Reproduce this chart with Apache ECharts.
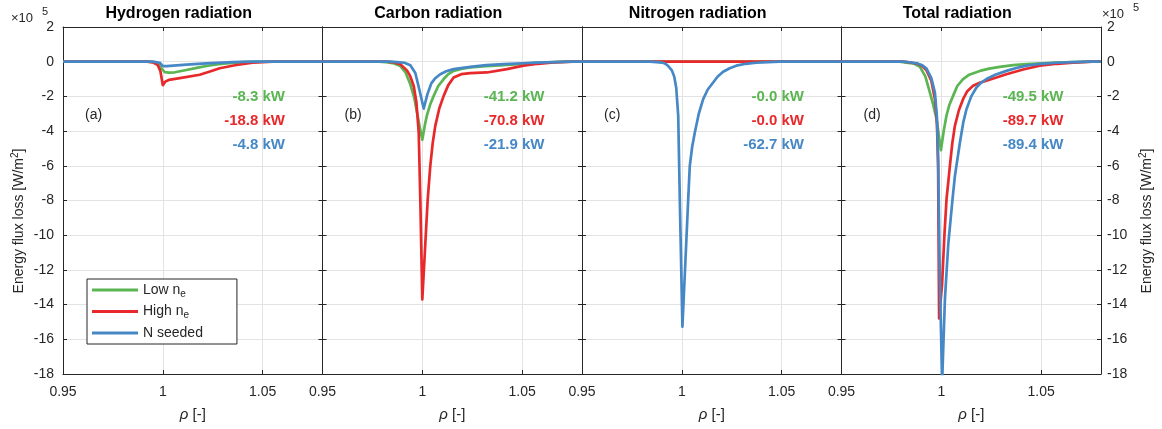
<!DOCTYPE html>
<html><head><meta charset="utf-8">
<script src="https://cdn.jsdelivr.net/npm/echarts@6/dist/echarts.min.js"></script>
<style>html,body{margin:0;padding:0;background:#fff}#c{width:1162px;height:429px}</style>
</head><body><div id="c"></div><script>
// ---------- data (values in units of 1e5 W/m^2) ----------
const panelTitles = ['Hydrogen radiation', 'Carbon radiation', 'Nitrogen radiation', 'Total radiation'];
const panelLetters = ['(a)', '(b)', '(c)', '(d)'];
const seriesNames = ['Low n_e', 'High n_e', 'N seeded'];
const powerLabels = [
  ['-8.3 kW', '-18.8 kW', '-4.8 kW'],
  ['-41.2 kW', '-70.8 kW', '-21.9 kW'],
  ['-0.0 kW', '-0.0 kW', '-62.7 kW'],
  ['-49.5 kW', '-89.7 kW', '-89.4 kW']
];
const xTickValues = [0.95, 1, 1.05];

const hydrogenLow = [[0.95,0],[0.993,0],[0.9955,-0.02],[0.9975,-0.12],[0.9993,-0.38],[1.001,-0.6],[1.003,-0.63],[1.006,-0.61],[1.0118,-0.48],[1.017,-0.36],[1.0218,-0.25],[1.027,-0.16],[1.0318,-0.1],[1.04,-0.02],[1.05,0],[1.08,0]];
const hydrogenHigh = [[0.95,0],[0.992,0],[0.995,-0.04],[0.9975,-0.2],[0.9988,-0.55],[0.9997,-1.15],[1.0,-1.35],[1.0012,-1.15],[1.003,-1.05],[1.0085,-0.95],[1.0185,-0.75],[1.024,-0.55],[1.0285,-0.38],[1.0368,-0.19],[1.045,-0.06],[1.055,0],[1.08,0]];
const hydrogenN = [[0.95,0],[0.995,0],[0.9985,-0.06],[1.0,-0.25],[1.002,-0.25],[1.0118,-0.17],[1.0218,-0.1],[1.035,-0.02],[1.045,0],[1.08,0]];

const carbonLow = [[0.95,0],[0.978,0],[0.982,-0.03],[0.986,-0.1],[0.989,-0.25],[0.9915,-0.6],[0.994,-1.3],[0.996,-2.1],[0.9973,-2.9],[0.9988,-3.8],[1.0,-4.5],[1.0012,-3.7],[1.0023,-3.1],[1.004,-2.45],[1.0057,-1.97],[1.008,-1.4],[1.0107,-1.0],[1.013,-0.72],[1.0157,-0.53],[1.02,-0.4],[1.024,-0.33],[1.032,-0.26],[1.0407,-0.2],[1.05,-0.12],[1.0573,-0.06],[1.066,-0.02],[1.074,0],[1.08,0]];
const carbonHigh = [[0.95,0],[0.982,0],[0.9857,-0.04],[0.989,-0.15],[0.9923,-0.5],[0.994,-0.85],[0.9957,-1.4],[0.997,-2.3],[0.9982,-4.08],[0.999,-7.95],[1.0,-13.7],[1.0015,-10.5],[1.0027,-7.95],[1.004,-6.0],[1.0052,-4.7],[1.0065,-3.7],[1.0085,-2.7],[1.0107,-1.97],[1.013,-1.35],[1.0157,-0.91],[1.0195,-0.72],[1.024,-0.66],[1.0324,-0.62],[1.0424,-0.43],[1.0507,-0.23],[1.058,-0.12],[1.0657,-0.04],[1.0757,0],[1.08,0]];
const carbonN = [[0.95,0],[0.984,0],[0.9873,-0.02],[0.991,-0.06],[0.994,-0.2],[0.9965,-0.65],[0.9985,-1.6],[1.0007,-2.7],[1.0025,-1.9],[1.0045,-1.25],[1.0065,-0.95],[1.009,-0.72],[1.012,-0.55],[1.0157,-0.43],[1.024,-0.3],[1.032,-0.2],[1.0407,-0.14],[1.05,-0.09],[1.0573,-0.05],[1.074,0],[1.08,0]];

const nitrogenLow = [[0.95,0],[1.0,0],[1.08,0]];
const nitrogenHigh = [[0.95,0],[1.0,0],[1.08,0]];
const nitrogenN = [[0.95,0],[0.984,0],[0.9873,-0.02],[0.99,-0.05],[0.9915,-0.1],[0.9932,-0.25],[0.995,-0.5],[0.9962,-0.85],[0.9972,-1.5],[0.9982,-3.1],[0.999,-7.95],[1.0003,-15.27],[1.0018,-11.5],[1.0032,-7.95],[1.004,-6.0],[1.0052,-4.9],[1.0065,-4.09],[1.0085,-3.0],[1.0107,-2.16],[1.013,-1.6],[1.0157,-1.2],[1.018,-0.85],[1.0207,-0.58],[1.024,-0.38],[1.0273,-0.23],[1.032,-0.12],[1.0373,-0.06],[1.049,0],[1.08,0]];

const totalLow = [[0.95,0],[0.979,0],[0.9826,-0.05],[0.9865,-0.12],[0.9893,-0.3],[0.992,-0.85],[0.9943,-1.78],[0.996,-2.5],[0.9976,-3.3],[0.9998,-5.1],[1.0012,-4.0],[1.0026,-3.1],[1.004,-2.5],[1.0059,-1.97],[1.008,-1.4],[1.0109,-1.0],[1.014,-0.75],[1.0193,-0.53],[1.024,-0.4],[1.0293,-0.3],[1.036,-0.2],[1.0426,-0.14],[1.05,-0.09],[1.0576,-0.05],[1.066,-0.02],[1.0743,0],[1.08,0]];
const totalHigh = [[0.95,0],[0.981,0],[0.984,-0.03],[0.988,-0.12],[0.9905,-0.25],[0.9926,-0.5],[0.995,-1.1],[0.9968,-2.16],[0.9978,-3.5],[0.9984,-6.0],[0.9989,-14.8],[1.0004,-12.8],[1.0016,-9.9],[1.0026,-7.95],[1.0043,-6.0],[1.0055,-4.7],[1.0068,-3.7],[1.0088,-2.8],[1.0109,-2.16],[1.013,-1.7],[1.0159,-1.39],[1.019,-1.22],[1.0226,-1.1],[1.0326,-0.72],[1.041,-0.45],[1.0493,-0.23],[1.058,-0.12],[1.0659,-0.05],[1.0758,0],[1.08,0]];
const totalN = [[0.95,0],[0.981,0],[0.984,-0.03],[0.988,-0.1],[0.9905,-0.2],[0.9926,-0.4],[0.995,-0.95],[0.9968,-1.78],[0.9978,-3.2],[0.9984,-5.5],[0.9992,-12],[1.0004,-18.5],[1.0018,-13.7],[1.0035,-10.5],[1.0056,-7.95],[1.0068,-6.6],[1.0093,-4.67],[1.011,-3.5],[1.0126,-2.74],[1.015,-2.0],[1.0176,-1.49],[1.02,-1.2],[1.0226,-1.0],[1.027,-0.75],[1.0326,-0.53],[1.0376,-0.36],[1.0426,-0.23],[1.05,-0.12],[1.0576,-0.06],[1.066,-0.02],[1.0743,0],[1.08,0]];

const panelData = [
  [hydrogenLow, hydrogenHigh, hydrogenN],
  [carbonLow, carbonHigh, carbonN],
  [nitrogenLow, nitrogenHigh, nitrogenN],
  [totalLow, totalHigh, totalN]
];

// ---------- style ----------
const COLORS = ['#5ab552', '#e8292c', '#4688c6'];
const FONT = '"Liberation Sans", Arial, Helvetica, sans-serif';
const AX = '#262626';
const GRIDC = '#e3e3e3';
const L0 = 63, PW = 259.5, TOP = 27, H = 347;
const XMIN = 0.95, XMAX = 1.08, YMIN = -18, YMAX = 2;

const grids = [], xAxes = [], yAxes = [], series = [], graphics = [];
const xFmt = v => xTickValues.some(t => Math.abs(t - v) < 1e-6) ? String(+v.toFixed(2)) : '';

for (let i = 0; i < 4; i++) {
  grids.push({ left: L0 + i * PW, top: TOP, width: PW, height: H, containLabel: false });
}
for (let i = 0; i < 4; i++) {
  xAxes.push({
    type: 'value', gridIndex: i, position: 'bottom', min: XMIN, max: XMAX, interval: 0.05,
    axisLine: { show: true, onZero: false, lineStyle: { color: AX, width: 1 } },
    axisTick: { show: true, inside: true, length: 4, lineStyle: { color: AX } },
    axisLabel: { color: AX, fontSize: 14, fontFamily: FONT, margin: 11, formatter: xFmt, showMaxLabel: false },
    splitLine: { show: true, lineStyle: { color: GRIDC, width: 1 } }
  });
}
for (let i = 0; i < 4; i++) {
  xAxes.push({
    type: 'value', gridIndex: i, position: 'top', min: XMIN, max: XMAX, interval: 0.05,
    axisLine: { show: true, onZero: false, lineStyle: { color: AX, width: 1 } },
    axisTick: { show: true, inside: true, length: 4, lineStyle: { color: AX } },
    axisLabel: { show: false }, splitLine: { show: false }
  });
}
for (let i = 0; i < 4; i++) {
  yAxes.push({
    type: 'value', gridIndex: i, position: 'left', min: YMIN, max: YMAX, interval: 2,
    axisLine: { show: true, onZero: false, lineStyle: { color: AX, width: 1 } },
    axisTick: { show: true, inside: true, length: 4, lineStyle: { color: AX } },
    axisLabel: { show: i === 0, color: AX, fontSize: 14, fontFamily: FONT, margin: 9 },
    splitLine: { show: true, lineStyle: { color: GRIDC, width: 1 } }
  });
}
for (let i = 0; i < 4; i++) {
  yAxes.push({
    type: 'value', gridIndex: i, position: 'right', min: YMIN, max: YMAX, interval: 2,
    axisLine: { show: true, onZero: false, lineStyle: { color: AX, width: 1 } },
    axisTick: { show: true, inside: true, length: 4, lineStyle: { color: AX } },
    axisLabel: { show: i === 3, color: AX, fontSize: 14, fontFamily: FONT, margin: 6 },
    splitLine: { show: false }
  });
}
for (let p = 0; p < 4; p++) {
  for (let s = 0; s < 3; s++) {
    series.push({
      type: 'line', name: seriesNames[s], xAxisIndex: p, yAxisIndex: p,
      data: panelData[p][s], symbol: 'none', showSymbol: false, smooth: false,
      lineStyle: { width: 2.7, color: COLORS[s], join: 'round' },
      itemStyle: { color: COLORS[s] }, animation: false, clip: true, z: 2 + s
    });
  }
}

// titles, panel letters, power annotations, axis names
for (let i = 0; i < 4; i++) {
  const left = L0 + i * PW;
  graphics.push({ type: 'text', z: 100, x: left + PW / 2 - 14, y: 14,
    style: { text: panelTitles[i], fill: '#000', font: 'bold 16px ' + FONT, textAlign: 'center', textVerticalAlign: 'middle' } });
  graphics.push({ type: 'text', z: 100, x: left + 22, y: 115,
    style: { text: panelLetters[i], fill: AX, font: '14px ' + FONT, textAlign: 'left', textVerticalAlign: 'middle' } });
  for (let s = 0; s < 3; s++) {
    graphics.push({ type: 'text', z: 100, x: left + 222, y: 97 + 24 * s,
      style: { text: powerLabels[i][s], fill: COLORS[s], font: 'bold 15px ' + FONT, textAlign: 'right', textVerticalAlign: 'middle' } });
  }
  graphics.push({ type: 'text', z: 100, x: left + PW / 2, y: 415,
    style: { text: '{i|ρ} [-]', fill: AX, font: '15px ' + FONT, textAlign: 'center', textVerticalAlign: 'middle',
      rich: { i: { fontStyle: 'italic', fontSize: 15, fontFamily: FONT, fill: AX } } } });
}
const yName = 'Energy flux loss [W/m{p|2}]';
const yRich = { p: { fontSize: 10, fontFamily: FONT, verticalAlign: 'top', lineHeight: 10, fill: AX } };
graphics.push({ type: 'text', z: 100, x: 19.5, y: 221, rotation: Math.PI / 2,
  style: { text: yName, fill: AX, font: '14px ' + FONT, lineHeight: 18, textAlign: 'center', textVerticalAlign: 'middle', rich: yRich } });
graphics.push({ type: 'text', z: 100, x: 1147.5, y: 221, rotation: Math.PI / 2,
  style: { text: yName, fill: AX, font: '14px ' + FONT, lineHeight: 18, textAlign: 'center', textVerticalAlign: 'middle', rich: yRich } });
// x10^5 exponent markers
graphics.push({ type: 'text', z: 100, x: 11, y: 18, style: { text: '×10', fill: AX, font: '13px ' + FONT, textAlign: 'left', textVerticalAlign: 'middle' } });
graphics.push({ type: 'text', z: 100, x: 42, y: 12, style: { text: '5', fill: AX, font: '11px ' + FONT, textAlign: 'left', textVerticalAlign: 'middle' } });
graphics.push({ type: 'text', z: 100, x: 1102, y: 14, style: { text: '×10', fill: AX, font: '13px ' + FONT, textAlign: 'left', textVerticalAlign: 'middle' } });
graphics.push({ type: 'text', z: 100, x: 1133, y: 8, style: { text: '5', fill: AX, font: '11px ' + FONT, textAlign: 'left', textVerticalAlign: 'middle' } });

const chart = echarts.init(document.getElementById('c'), null, { renderer: 'canvas' });
chart.setOption({
  backgroundColor: '#fff',
  animation: false,
  grid: grids, xAxis: xAxes, yAxis: yAxes, series: series,
  legend: {
    data: seriesNames, left: 87, top: 279, orient: 'vertical', icon: 'rect',
    itemWidth: 46, itemHeight: 3, itemGap: 3.5, itemTextGap: 4,
    borderColor: AX, borderWidth: 1, backgroundColor: '#fff', borderRadius: 0,
    padding: [2, 34, 2, 5], selectedMode: false,
    formatter: n => n.replace('_e', '{s|e}'),
    textStyle: { fontSize: 14, fontFamily: FONT, color: AX, lineHeight: 18,
      rich: { s: { fontSize: 10, fontFamily: FONT, color: AX, lineHeight: 10, verticalAlign: 'bottom' } } }
  },
  graphic: { elements: graphics }
});
</script></body></html>
